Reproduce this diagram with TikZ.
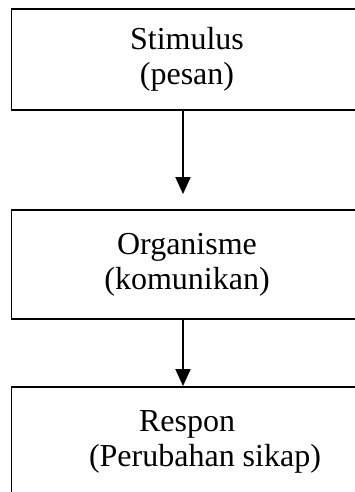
\documentclass[tikz,border=0pt]{standalone}
\usepackage{fontspec}
\setmainfont{Liberation Serif}
\usetikzlibrary{arrows.meta}
\begin{document}
\begin{tikzpicture}[x=1pt,y=-1pt,
  box/.style={draw, line width=1.9pt, minimum width=351pt, inner sep=0pt, align=center, font=\fontsize{32}{35}\selectfont},
  flow/.style={line width=1.9pt, -{Triangle[width=15pt,length=17pt]}}]
\useasboundingbox (0,0) rectangle (355,492);
\clip (0,0) rectangle (355,492);
\node[box, minimum height=101pt] (stim) at (187,59.5) {Stimulus\\(pesan)};
\node[box, minimum height=109pt] (org) at (187,264.5) {Organisme\\(komunikan)};
\node[box, minimum height=110pt] (resp) at (187,442) {Respon\\\hspace*{36pt}(Perubahan sikap)};

\draw[flow] ([xshift=-4pt]stim.south) -- ([xshift=-4pt,yshift=15pt]org.north);
\draw[flow] ([xshift=-4pt]org.south) -- ([xshift=-4pt]resp.north);
\end{tikzpicture}
\end{document}
